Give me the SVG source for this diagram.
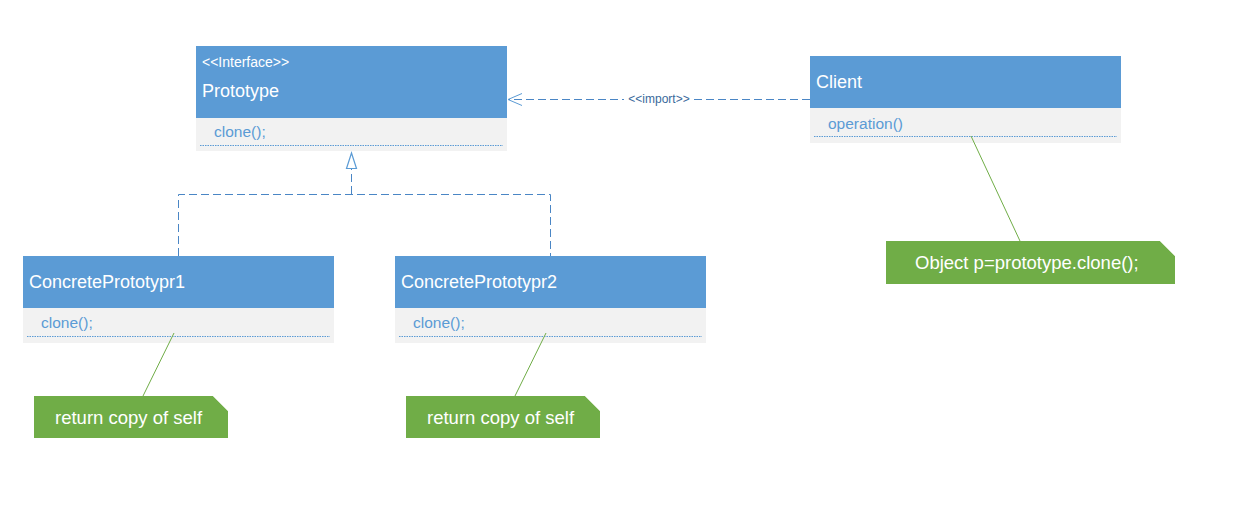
<svg xmlns="http://www.w3.org/2000/svg" width="1236" height="531" viewBox="0 0 1236 531">
<style>
.hdr{fill:#5B9BD5}
.body{fill:#F2F2F2}
.sep{stroke:#5B9BD5;stroke-width:1;stroke-dasharray:1.5 1}
.title{font-family:"Liberation Sans",Arial,sans-serif;font-size:18px;fill:#ffffff}
.stereo{font-family:"Liberation Sans",Arial,sans-serif;font-size:14px;fill:#ffffff}
.meth{font-family:"Liberation Sans",Arial,sans-serif;font-size:15.5px;fill:#5B9BD5}
.note{fill:#70AD47}
.fold{fill:none;stroke:#d5e6c8;stroke-width:1}
.ntext{font-family:"Liberation Sans",Arial,sans-serif;font-size:18.5px;fill:#ffffff}
.dash{fill:none;stroke:#4a86c5;stroke-width:1;stroke-dasharray:8 4}
.anchor{stroke:#70AD47;stroke-width:1;fill:none}
.lbl{font-family:"Liberation Sans",Arial,sans-serif;font-size:12px;fill:#3a6a9c}
</style>
<rect width="1236" height="531" fill="#ffffff"/>

<g id="prototype">
  <rect class="hdr" x="196" y="46" width="311" height="72"/>
  <rect class="body" x="196" y="118" width="311" height="33"/>
  <line class="sep" x1="200" y1="145.5" x2="503" y2="145.5"/>
  <text class="stereo" x="202" y="67">&lt;&lt;Interface&gt;&gt;</text>
  <text class="title" x="202" y="97">Prototype</text>
  <text class="meth" x="214" y="137">clone();</text>
</g>

<g id="client">
  <rect class="hdr" x="810" y="56" width="311" height="52"/>
  <rect class="body" x="810" y="108" width="311" height="35"/>
  <line class="sep" x1="814" y1="136.5" x2="1117" y2="136.5"/>
  <text class="title" x="816" y="88">Client</text>
  <text class="meth" x="828" y="129" font-size="17">operation()</text>
</g>

<g id="concrete1">
  <rect class="hdr" x="23" y="256" width="311" height="52"/>
  <rect class="body" x="23" y="308" width="311" height="35"/>
  <line class="sep" x1="27" y1="336.5" x2="330" y2="336.5"/>
  <text class="title" x="29" y="288">ConcretePrototypr1</text>
  <text class="meth" x="41" y="328">clone();</text>
</g>

<g id="concrete2">
  <rect class="hdr" x="395" y="256" width="311" height="52"/>
  <rect class="body" x="395" y="308" width="311" height="35"/>
  <line class="sep" x1="399" y1="336.5" x2="702" y2="336.5"/>
  <text class="title" x="401" y="288">ConcretePrototypr2</text>
  <text class="meth" x="413" y="328">clone();</text>
</g>

<g id="note1">
  <polygon class="note" points="34,396 213,396 228,411 228,438 34,438"/>
  <line class="fold" x1="213" y1="396" x2="228" y2="411"/>
  <text class="ntext" x="55" y="424">return copy of self</text>
</g>

<g id="note2">
  <polygon class="note" points="406,396 585,396 600,411 600,438 406,438"/>
  <line class="fold" x1="585" y1="396" x2="600" y2="411"/>
  <text class="ntext" x="427" y="424">return copy of self</text>
</g>

<g id="note3">
  <polygon class="note" points="886,241 1160,241 1175,256 1175,284 886,284"/>
  <line class="fold" x1="1160" y1="241" x2="1175" y2="256"/>
  <text class="ntext" x="915" y="269">Object p=prototype.clone();</text>
</g>

<g id="connectors">
  <line class="dash" x1="810" y1="99.5" x2="509" y2="99.5"/>
  <rect x="624" y="92" width="70" height="14" fill="#ffffff"/>
  <text class="lbl" x="659" y="103" text-anchor="middle">&lt;&lt;import&gt;&gt;</text>
  <polyline points="522,93.5 508,99.5 522,105.5" fill="none" stroke="#5B9BD5" stroke-width="1"/>
  <polyline class="dash" points="178.5,256 178.5,194.5 550.5,194.5 550.5,256"/>
  <line class="dash" x1="351.5" y1="194" x2="351.5" y2="169" stroke-dasharray="8 3"/>
  <polygon points="351.5,153 346.5,168.5 356.5,168.5" fill="#ffffff" stroke="#5B9BD5" stroke-width="1.2"/>
  <line class="anchor" x1="174" y1="333" x2="143" y2="396"/>
  <line class="anchor" x1="546" y1="333" x2="515" y2="396"/>
  <line class="anchor" x1="971" y1="136" x2="1020" y2="241"/>
</g>
</svg>
